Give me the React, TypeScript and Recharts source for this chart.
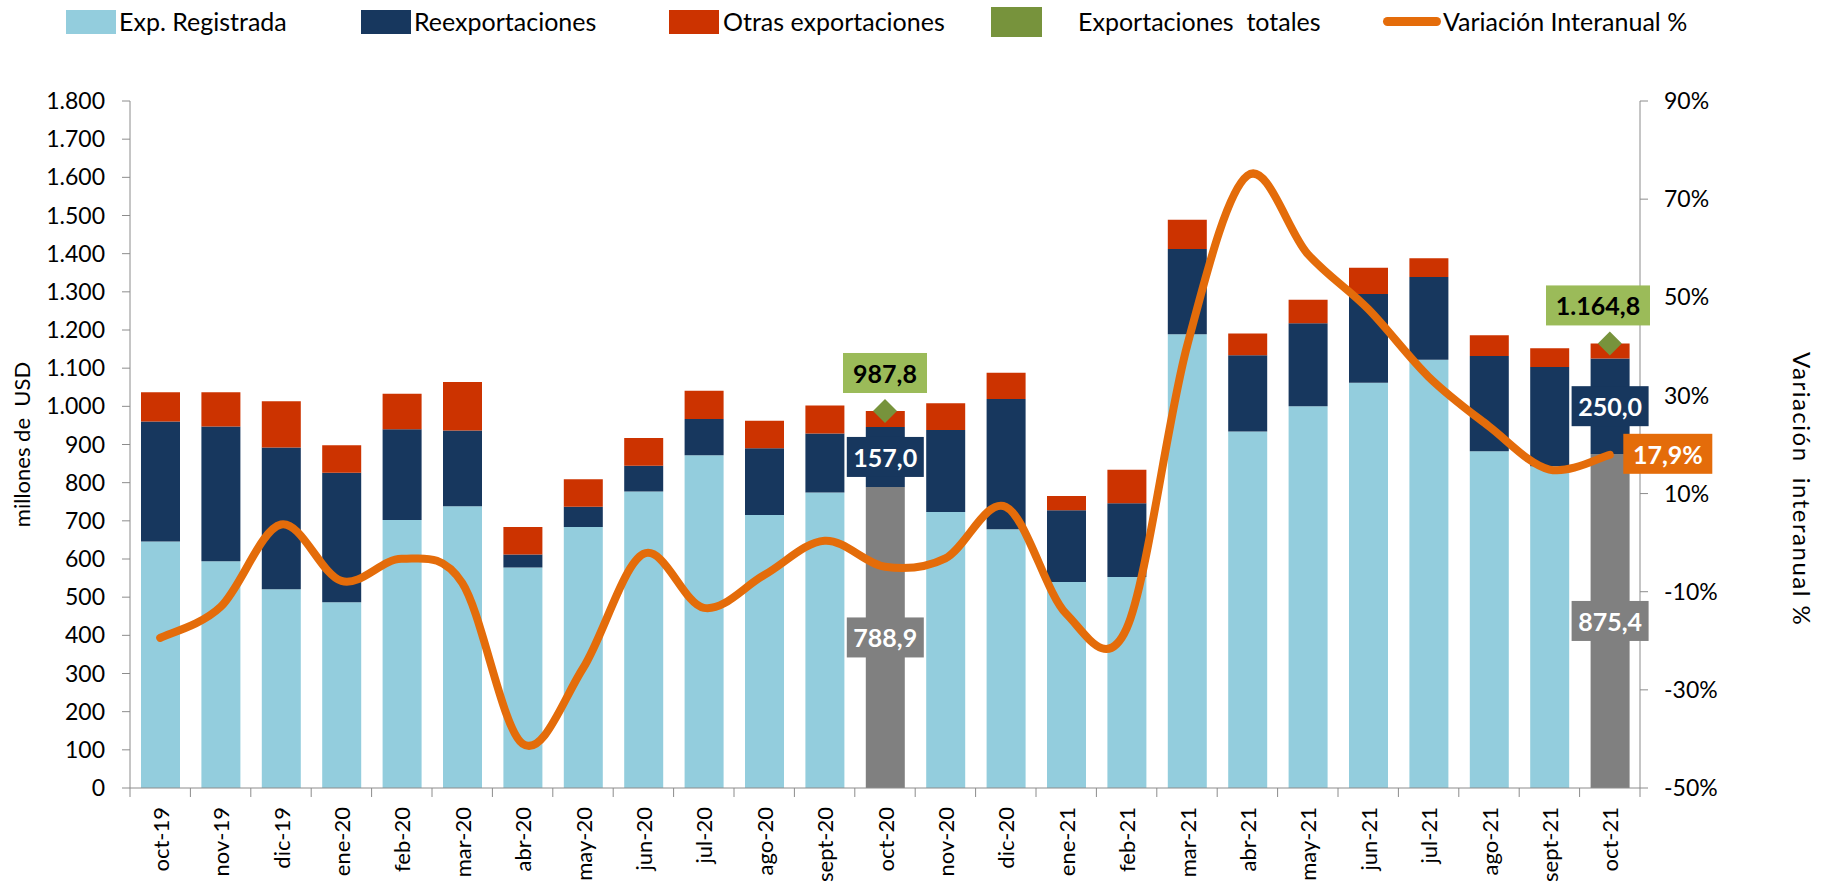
import React from 'react';
import { ComposedChart, Bar, Line, XAxis, YAxis, Cell, LabelList } from 'recharts';

// months shown on the category axis
const months = [
  'oct-19', 'nov-19', 'dic-19', 'ene-20', 'feb-20', 'mar-20', 'abr-20', 'may-20', 'jun-20',
  'jul-20', 'ago-20', 'sept-20', 'oct-20', 'nov-20', 'dic-20', 'ene-21', 'feb-21', 'mar-21',
  'abr-21', 'may-21', 'jun-21', 'jul-21', 'ago-21', 'sept-21', 'oct-21',
];

// millones de USD
const expRegistrada = [646, 594, 521, 487, 702, 738, 578, 684, 777, 872, 715, 774, 788.9, 723, 678, 540, 553, 1189, 934, 1000, 1062, 1122, 882, 843, 875.4];
const reexportaciones = [314, 353, 371, 339, 238, 199, 34, 53, 67, 95, 175, 155, 157.0, 215, 341, 188, 193, 223, 200, 218, 232, 217, 250, 260, 250.0];
const otrasExportaciones = [77, 90, 121, 72, 93, 127, 72, 72, 73, 74, 72, 73, 41.9, 70, 69, 37, 88, 77, 57, 61, 69, 49, 54, 49, 39.4];

// variación interanual %
const variacionInteranual = [-19.4, -13.1, 3.7, -7.8, -3.3, -8.2, -41, -25.6, -2.3, -13.3, -6.6, 0.4, -4.9, -3.2, 7.3, -14.5, -17.5, 40, 74.8, 58.8, 47.6, 33.8, 23.7, 14.9, 17.9];

// months with labels and total markers
const highlightMonths = ['oct-20', 'oct-21'];
const highlightTotals = [987.8, 1164.8];
const lastMonth = 'oct-21';

const leftTicks = [0, 100, 200, 300, 400, 500, 600, 700, 800, 900, 1000, 1100, 1200, 1300, 1400, 1500, 1600, 1700, 1800];
const rightTicks = [-50, -30, -10, 10, 30, 50, 70, 90];

const W = 1822;
const H = 887;
const PLOT_LEFT = 130;
const PLOT_RIGHT = 1640;
const BAND = (PLOT_RIGHT - PLOT_LEFT) / months.length;

const C_LIGHT = '#93CDDD';
const C_NAVY = '#17375E';
const C_RED = '#CC3300';
const C_GREEN = '#77933C';
const C_GREEN_BOX = '#9BBB59';
const C_GRAY = '#808080';
const C_ORANGE = '#E46C0A';
const C_AXIS = '#8C8C8C';
const FONT = 'Lato, "Open Sans", sans-serif';

const data = months.map((m, i) => {
  const h = highlightMonths.indexOf(m);
  return {
    month: m,
    exp: expRegistrada[i],
    reexp: reexportaciones[i],
    otras: otrasExportaciones[i],
    variacion: variacionInteranual[i],
    total: h >= 0 ? highlightTotals[h] : null,
    expLabel: h >= 0 ? expRegistrada[i] : null,
    reexpLabel: h >= 0 ? reexportaciones[i] : null,
    varLabel: m === lastMonth ? variacionInteranual[i] : null,
  };
});

const groupInt = (n: number) => String(n).replace(/\B(?=(\d{3})+(?!\d))/g, '.');
const fmt1 = (v: number) => {
  const [a, b] = v.toFixed(1).split('.');
  return `${groupInt(Number(a))},${b}`;
};

// Excel-like smoothed line (Catmull-Rom through points)
function excelSmooth(context: any) {
  let pts: number[][] = [];
  return {
    areaStart() {},
    areaEnd() {},
    lineStart() {
      pts = [];
    },
    lineEnd() {
      if (!pts.length) return;
      context.moveTo(pts[0][0], pts[0][1]);
      for (let i = 0; i < pts.length - 1; i++) {
        const p0 = pts[Math.max(i - 1, 0)];
        const p1 = pts[i];
        const p2 = pts[i + 1];
        const p3 = pts[Math.min(i + 2, pts.length - 1)];
        context.bezierCurveTo(
          p1[0] + (p2[0] - p0[0]) / 6,
          p1[1] + (p2[1] - p0[1]) / 6,
          p2[0] - (p3[0] - p1[0]) / 6,
          p2[1] - (p3[1] - p1[1]) / 6,
          p2[0],
          p2[1],
        );
      }
    },
    point(x: number, y: number) {
      pts.push([+x, +y]);
    },
  };
}

const box = (key: string, cx: number, cy: number, w: number, h: number, fill: string, color: string, text: string) => (
  <g key={key}>
    <rect x={cx - w / 2} y={cy - h / 2} width={w} height={h} fill={fill} />
    <text x={cx} y={cy} textAnchor="middle" dominantBaseline="central" fontFamily={FONT} fontWeight={700} fontSize={25} fill={color}>
      {text}
    </text>
  </g>
);

const rectOf = (p: any) => {
  const vb = p.viewBox && p.viewBox.width !== undefined ? p.viewBox : p;
  return { x: Number(vb.x), y: Number(vb.y), width: Number(vb.width), height: Number(vb.height) };
};

const SegmentLabel = (fill: string) => (p: any) => {
  if (p.value == null) return null;
  const r = rectOf(p);
  return box(`s-${r.x}`, r.x + r.width / 2, r.y + r.height / 2, 77, 40, fill, '#FFFFFF', fmt1(Number(p.value)));
};

const TotalLabel = (p: any) => {
  if (p.value == null) return null;
  const vb = p.viewBox || p;
  const x = Number(vb.x);
  const y = Number(vb.y);
  const text = fmt1(Number(p.value));
  const w = 34 + 10 * text.length;
  const cx = Math.min(x, PLOT_RIGHT + 10 - w / 2);
  return box(`t-${x}`, cx, y - 38, w, 40, C_GREEN_BOX, '#000000', text);
};

const VarLabel = (p: any) => {
  if (p.value == null) return null;
  const vb = p.viewBox || p;
  const x = Number(vb.x);
  const y = Number(vb.y);
  return box('v-last', x + 58, y - 1, 89, 40, C_ORANGE, '#FFFFFF', `${String(Number(p.value).toFixed(1)).replace('.', ',')}%`);
};

const Diamond = (p: any) => {
  const { cx, cy, payload } = p;
  if (payload == null || payload.total == null || cy == null) return <g key={`d-${cx}`} />;
  const s = 12;
  return (
    <path
      key={`d-${cx}`}
      d={`M${cx},${cy - s} L${cx + s},${cy} L${cx},${cy + s} L${cx - s},${cy} Z`}
      fill={C_GREEN}
    />
  );
};

const MonthTick = (p: any) => {
  const { x, y, payload } = p;
  const last = payload.value === months[months.length - 1];
  return (
    <g>
      <line x1={x - BAND / 2} x2={x - BAND / 2} y1={y} y2={y + 9} stroke={C_AXIS} />
      {last && <line x1={x + BAND / 2} x2={x + BAND / 2} y1={y} y2={y + 9} stroke={C_AXIS} />}
      <text
        transform={`translate(${x},${y + 19}) rotate(-90)`}
        textAnchor="end"
        dominantBaseline="central"
        fontFamily={FONT}
        fontSize={22}
        fill="#000"
      >
        {payload.value}
      </text>
    </g>
  );
};

const legendItems = [
  { label: 'Exp. Registrada', color: C_LIGHT, x: 66, textX: 119, kind: 'box' },
  { label: 'Reexportaciones', color: C_NAVY, x: 361, textX: 414, kind: 'box' },
  { label: 'Otras exportaciones', color: C_RED, x: 669, textX: 723, kind: 'box' },
  { label: 'Exportaciones  totales', color: C_GREEN, x: 991, textX: 1078, kind: 'big' },
  { label: 'Variación Interanual %', color: C_ORANGE, x: 1383, textX: 1443, kind: 'line' },
];

function ChartLegend() {
  return (
    <div style={{ position: 'absolute', left: 0, top: 0, width: W, height: 44 }}>
      {legendItems.map((it) => (
        <React.Fragment key={it.label}>
          {it.kind === 'box' && (
            <div style={{ position: 'absolute', left: it.x, top: 10, width: 50, height: 24, background: it.color }} />
          )}
          {it.kind === 'big' && (
            <div style={{ position: 'absolute', left: it.x, top: 7, width: 51, height: 30, background: it.color }} />
          )}
          {it.kind === 'line' && (
            <div style={{ position: 'absolute', left: it.x, top: 17, width: 58, height: 9, borderRadius: 5, background: it.color }} />
          )}
          <div
            style={{
              position: 'absolute',
              left: it.textX,
              top: 6,
              lineHeight: '30px',
              fontFamily: FONT,
              fontSize: 25,
              color: '#000',
              whiteSpace: 'pre',
            }}
          >
            {it.label}
          </div>
        </React.Fragment>
      ))}
    </div>
  );
}

export default function App() {
  return (
    <div style={{ position: 'absolute', left: 0, top: 0, width: W, height: H, background: '#fff' }}>
      <ChartLegend />
      <ComposedChart width={W} height={H} data={data} margin={{ top: 101, right: 0, bottom: 0, left: 0 }}>
        <XAxis
          dataKey="month"
          interval={0}
          height={99}
          tickLine={false}
          tickSize={0}
          tickMargin={0}
          axisLine={{ stroke: C_AXIS }}
          tick={<MonthTick />}
        />
        <YAxis
          yAxisId="left"
          width={130}
          domain={[0, 1800]}
          ticks={leftTicks}
          interval={0}
          tickSize={8}
          tickMargin={17}
          tickLine={{ stroke: C_AXIS }}
          axisLine={{ stroke: C_AXIS }}
          tickFormatter={(v: number) => groupInt(v)}
          tick={{ fontFamily: FONT, fontSize: 23, fill: '#000' }}
          label={{
            content: (p: any) => {
              const vb = p.viewBox;
              return (
                <text
                  transform={`translate(${vb.x + 21},${vb.y + vb.height / 2}) rotate(-90)`}
                  textAnchor="middle"
                  dominantBaseline="central"
                  fontFamily={FONT}
                  fontSize={22}
                  fill="#000"
                  style={{ whiteSpace: 'pre' }}
                >
                  millones de  USD
                </text>
              );
            },
          }}
        />
        <YAxis
          yAxisId="right"
          orientation="right"
          width={182}
          domain={[-50, 90]}
          ticks={rightTicks}
          interval={0}
          tickSize={8}
          tickMargin={16}
          tickLine={{ stroke: C_AXIS }}
          axisLine={{ stroke: C_AXIS }}
          tickFormatter={(v: number) => `${v}%`}
          tick={{ fontFamily: FONT, fontSize: 23, fill: '#000' }}
          label={{
            content: (p: any) => {
              const vb = p.viewBox;
              return (
                <text
                  transform={`translate(${vb.x + vb.width - 20},${vb.y + 251}) rotate(90)`}
                  textAnchor="start"
                  dominantBaseline="central"
                  fontFamily={FONT}
                  fontSize={24}
                  letterSpacing={1.5}
                  fill="#000"
                  style={{ whiteSpace: 'pre' }}
                >
                  Variación  interanual %
                </text>
              );
            },
          }}
        />
        <Bar yAxisId="left" dataKey="exp" stackId="a" barSize={39} fill={C_LIGHT} isAnimationActive={false}>
          {data.map((d) => (
            <Cell key={d.month} fill={highlightMonths.includes(d.month) ? C_GRAY : C_LIGHT} />
          ))}
          <LabelList dataKey="expLabel" content={SegmentLabel(C_GRAY)} />
        </Bar>
        <Bar yAxisId="left" dataKey="reexp" stackId="a" barSize={39} fill={C_NAVY} isAnimationActive={false}>
          <LabelList dataKey="reexpLabel" content={SegmentLabel(C_NAVY)} />
        </Bar>
        <Bar yAxisId="left" dataKey="otras" stackId="a" barSize={39} fill={C_RED} isAnimationActive={false} />
        <Line
          yAxisId="right"
          dataKey="variacion"
          type={excelSmooth as any}
          stroke={C_ORANGE}
          strokeWidth={8}
          strokeLinecap="round"
          dot={false}
          activeDot={false}
          isAnimationActive={false}
        >
          <LabelList dataKey="varLabel" content={VarLabel} />
        </Line>
        <Line
          yAxisId="left"
          dataKey="total"
          stroke="none"
          dot={Diamond}
          activeDot={false}
          isAnimationActive={false}
        >
          <LabelList dataKey="total" content={TotalLabel} />
        </Line>
      </ComposedChart>
    </div>
  );
}
